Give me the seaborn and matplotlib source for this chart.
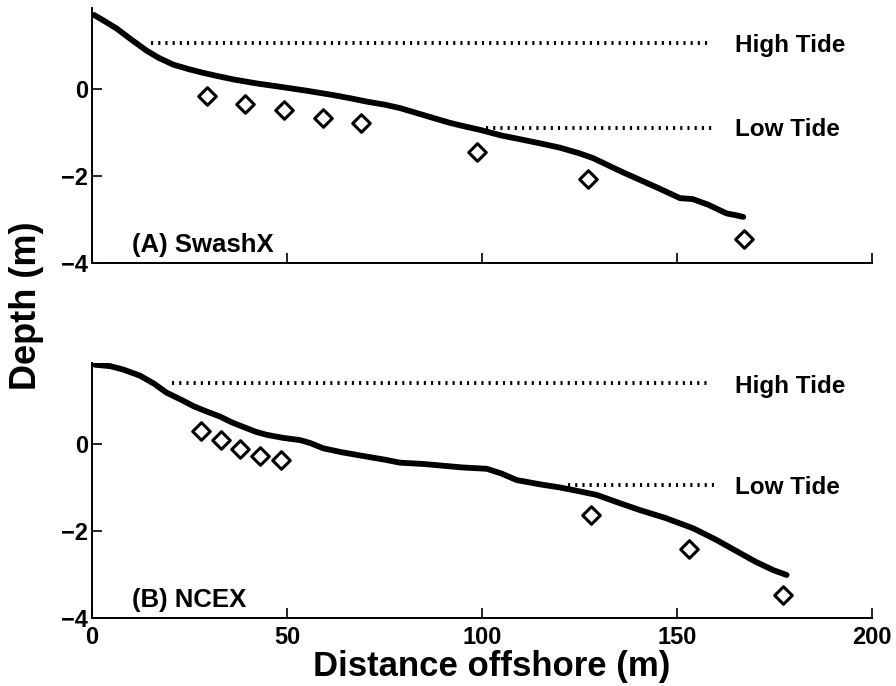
import matplotlib
matplotlib.use('Agg')
import matplotlib.pyplot as plt
import numpy as np
import seaborn as sns

# profile A (SwashX): distance offshore (m), depth (m)
swash_x = [0.5, 3, 6.3, 10, 14, 17, 20.8, 25, 28.5, 32, 36.2, 42, 49, 55, 61.8, 66, 70.4, 75, 79, 85,
           91.8, 96, 99.5, 105, 110, 114.9, 120, 125, 128.5, 132, 136, 140.5, 145, 150.8, 154, 158,
           162.7, 165, 167]
swash_z = [1.70, 1.57, 1.39, 1.14, 0.88, 0.72, 0.56, 0.45, 0.37, 0.30, 0.22, 0.13, 0.04, -0.04, -0.14,
           -0.21, -0.29, -0.36, -0.44, -0.60, -0.78, -0.87, -0.94, -1.07, -1.16, -1.25, -1.35, -1.48,
           -1.59, -1.74, -1.91, -2.09, -2.27, -2.51, -2.53, -2.66, -2.86, -2.90, -2.94]
swash_sx = [29.5, 39.2, 49.3, 59.3, 69, 98.6, 127.3, 167.3]
swash_sz = [-0.16, -0.34, -0.49, -0.67, -0.79, -1.44, -2.07, -3.45]
swash_tide = [1.05, -0.90]          # high, low
swash_tide_x0 = [15, 101]
swash_tide_x1 = [158.5, 160]

# profile B (NCEX)
ncex_x = [0.8, 4.6, 8, 12.3, 16, 19.1, 23, 26, 29, 32.8, 36, 39.7, 42, 44.8, 49, 53.3, 56, 59.3, 64,
          70.4, 75, 79, 85, 90, 95, 101.2, 105, 108.9, 115, 120, 123.4, 129.4, 135, 140.5, 147, 154.2,
          160, 166.2, 170, 174.7, 178.1]
ncex_z = [1.82, 1.79, 1.71, 1.57, 1.38, 1.18, 1.01, 0.87, 0.76, 0.63, 0.49, 0.36, 0.28, 0.21, 0.14,
          0.09, 0.02, -0.10, -0.19, -0.29, -0.36, -0.43, -0.46, -0.50, -0.54, -0.57, -0.68, -0.83,
          -0.93, -1.00, -1.06, -1.17, -1.35, -1.52, -1.70, -1.94, -2.20, -2.51, -2.70, -2.90, -3.01]
ncex_sx = [28, 33, 38, 43.2, 48.4, 127.9, 153.1, 177.3]
ncex_sz = [0.30, 0.09, -0.11, -0.27, -0.37, -1.63, -2.42, -3.47]
ncex_tide = [1.39, -0.94]
ncex_tide_x0 = [20.5, 122]
ncex_tide_x1 = [158.5, 160]

tide_names = ['High Tide', 'Low Tide']
panel_names = ['(A) SwashX', '(B) NCEX']
x_ticks = [0, 50, 100, 150, 200]
y_ticks = [-4, -2, 0]

sns.set_style('ticks')
plt.rcParams['font.family'] = ['Liberation Sans', 'DejaVu Sans']
plt.rcParams['font.weight'] = 'bold'
plt.rcParams['text.color'] = 'black'
plt.rcParams['xtick.color'] = 'black'
plt.rcParams['ytick.color'] = 'black'
plt.rcParams['axes.labelcolor'] = 'black'

fig = plt.figure(figsize=(8.96, 6.86), dpi=100)
ax_a = fig.add_axes([0.1027, 0.6166, 0.8705, 0.3717])
ax_b = fig.add_axes([0.1027, 0.0991, 0.8705, 0.3717])

panels = [
    (ax_a, swash_x, swash_z, swash_sx, swash_sz, swash_tide, swash_tide_x0, swash_tide_x1, [1.0, -0.94]),
    (ax_b, ncex_x, ncex_z, ncex_sx, ncex_sz, ncex_tide, ncex_tide_x0, ncex_tide_x1, [1.32, -1.0]),
]

for i, (ax, px, pz, sx, sz, tide, tx0, tx1, ty) in enumerate(panels):
    sns.lineplot(x=px, y=pz, ax=ax, color='black', lw=4.2, sort=False, estimator=None)
    sns.scatterplot(x=sx, y=sz, ax=ax, marker='D', s=80, facecolor='white',
                    edgecolor='black', linewidth=2.2, zorder=3)
    for j in range(2):
        ax.hlines(tide[j], tx0[j], tx1[j], colors='black', lw=2.8,
                  linestyles=(0, (0.55, 1.3)))
        ax.text(165, ty[j], tide_names[j], fontsize=17.5, fontweight='bold', va='center', ha='left',
                color='black')
    ax.text(10.3, -3.75, panel_names[i], fontsize=18.5, fontweight='bold', va='baseline', ha='left',
            color='black')

    ax.set_xlim(0, 200)
    ax.set_ylim(-4, 1.86)
    ax.set_xticks(x_ticks)
    ax.set_yticks(y_ticks)
    ax.set_yticklabels(['\u22124', '\u22122', '0'])
    ax.tick_params(direction='in', length=7, width=1.2, labelsize=17, pad=3, colors='black')
    ax.tick_params(axis='x', pad=6)
    for lab in ax.get_xticklabels() + ax.get_yticklabels():
        lab.set_fontweight('bold')
    sns.despine(ax=ax)
    for sp in ['left', 'bottom']:
        ax.spines[sp].set_linewidth(1.4)
        ax.spines[sp].set_color('black')
    ax.set_xlabel('')
    ax.set_ylabel('')

ax_a.set_xticklabels([])

fig.text(0.030, 0.554, 'Depth (m)', rotation=90, fontsize=26, fontweight='bold',
         ha='center', va='center', color='black')
fig.text(0.549, 0.014, 'Distance offshore (m)', fontsize=25, fontweight='bold',
         ha='center', va='baseline', color='black')

fig.savefig('out.png', dpi=100)
